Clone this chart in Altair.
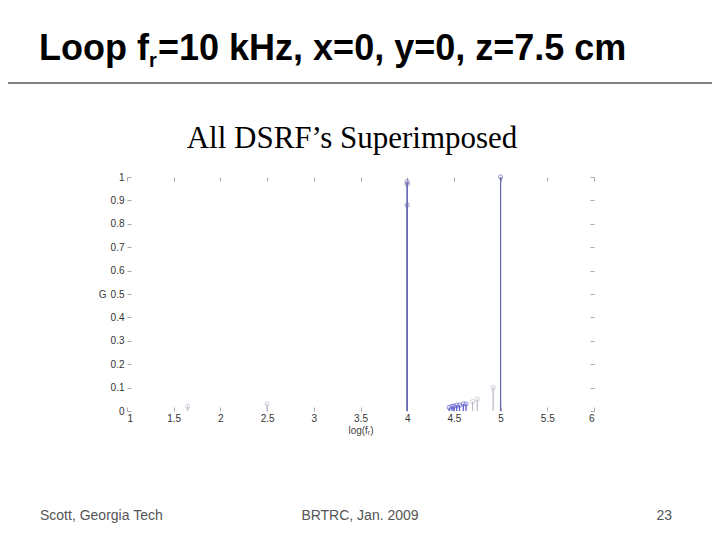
import altair as alt
import pandas as pd

# ---- data ----
stem_x = [4.00, 4.00, 4.00, 5.00, 4.92, 4.45, 4.48, 4.50, 4.53, 4.56, 4.60, 4.63, 4.70, 4.75, 1.65, 2.50]
stem_y = [0.98, 0.97, 0.88, 1.00, 0.10, 0.015, 0.02, 0.02, 0.025, 0.025, 0.03, 0.03, 0.04, 0.05, 0.02, 0.03]
stem_tone = ["main", "main", "main", "main", "faint", "cluster", "cluster", "cluster", "cluster",
             "cluster", "cluster", "cluster", "faint", "faint", "faint", "faint"]

x_ticks = [1, 1.5, 2, 2.5, 3, 3.5, 4, 4.5, 5, 5.5, 6]
y_ticks = [0, 0.1, 0.2, 0.3, 0.4, 0.5, 0.6, 0.7, 0.8, 0.9, 1]

header_a = "Loop f"
header_sub = "r"
header_b = "=10 kHz, x=0, y=0, z=7.5 cm"
plot_title = "All DSRF\u2019s Superimposed"
x_title = "log(f\u1d63)"
y_title = "G"
footer_left = "Scott, Georgia Tech"
footer_mid = "BRTRC, Jan. 2009"
footer_right = "23"

df = pd.DataFrame({"x": stem_x, "y": stem_y, "tone": stem_tone})

PW, PH = 467, 234

xs = alt.Scale(domain=[1, 6], nice=False, zero=False)
ys = alt.Scale(domain=[0, 1], nice=False)
col = alt.Color("tone:N", legend=None,
                scale=alt.Scale(domain=["main", "cluster", "faint"],
                                range=["#6a6ab4", "#5a5ad0", "#bcbccc"]))

ax_common = dict(domain=False, grid=False, tickSize=4, offset=-4, tickColor="#aaaaaa",
                 format="~g",
                 labelFont="Liberation Sans", labelFontSize=10, labelColor="#333333",
                 titleFont="Liberation Sans", titleFontSize=10, titleFontWeight="normal",
                 titleColor="#444444")

base = alt.Chart(df)

stems = base.mark_rule(strokeWidth=1.3).encode(
    x=alt.X("x:Q", scale=xs, axis=alt.Axis(orient="bottom", values=x_ticks, labelPadding=2,
                                           title=x_title, titlePadding=2, **ax_common)),
    y=alt.Y("y:Q", scale=ys, axis=alt.Axis(orient="left", values=y_ticks, labelPadding=3,
                                           title=y_title, titleAngle=0, titleBaseline="middle",
                                           titlePadding=8, **ax_common)),
    y2=alt.datum(0),
    color=col,
)

points = base.mark_point(shape="circle", filled=False, size=18, strokeWidth=1).encode(
    x=alt.X("x:Q", scale=xs, axis=alt.Axis(orient="top", values=x_ticks, labels=False,
                                           title=None, **ax_common)),
    y=alt.Y("y:Q", scale=ys, axis=alt.Axis(orient="right", values=y_ticks, labels=False,
                                           title=None, **ax_common)),
    color=col,
)


def note(txt, x, y, **kw):
    return alt.Chart(alt.Data(values=[{"t": txt}])).mark_text(**kw).encode(
        x=alt.value(x), y=alt.value(y), text="t:N")


header_rule = alt.Chart(alt.Data(values=[{"k": 1}])).mark_rule(
    color="black", strokeWidth=1).encode(x=alt.value(-119), x2=alt.value(585), y=alt.value(-94))

hfont = dict(font="Liberation Sans", fontWeight="bold", color="black", baseline="alphabetic")
texts = [
    note(header_a, 22, -117, align="right", fontSize=36, **hfont),
    note(header_sub, 22, -110, align="left", fontSize=20, **hfont),
    note(header_b, 31, -117, align="left", fontSize=36, **hfont),
    note(plot_title, 225, -29, align="center", fontSize=31, font="Liberation Serif",
         color="black", baseline="alphabetic"),
    note(footer_left, -87, 343, align="left", fontSize=14, font="Liberation Sans",
         color="#555555", baseline="alphabetic"),
    note(footer_mid, 233, 343, align="center", fontSize=14, font="Liberation Sans",
         color="#555555", baseline="alphabetic"),
    note(footer_right, 545, 343, align="right", fontSize=14, font="Liberation Sans",
         color="#555555", baseline="alphabetic"),
]

chart = alt.layer(stems, points, header_rule, *texts).resolve_axis(
    x="independent", y="independent"
).properties(
    width=PW, height=PH,
    autosize=alt.AutoSizeParams(type="none"),
    padding={"left": 119, "top": 169, "right": 118, "bottom": 121},
    background="white",
).configure_view(stroke=None)

chart.save("out.html", embed_options={"renderer": "svg", "actions": False})
